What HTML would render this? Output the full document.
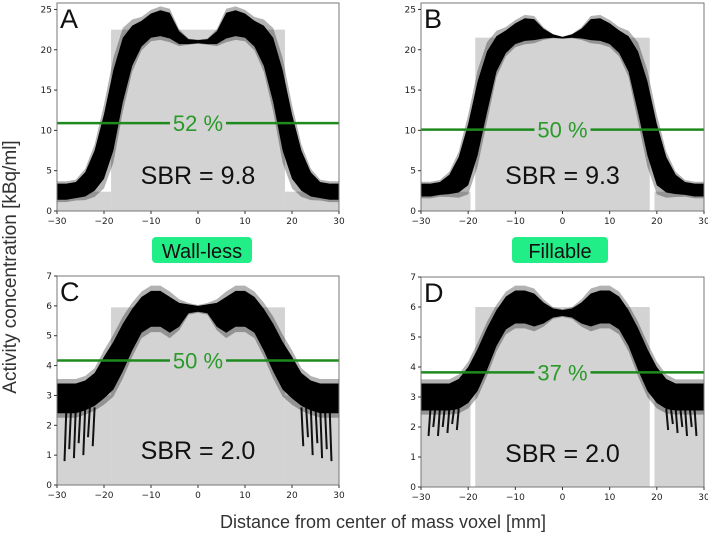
<!DOCTYPE html>
<html><head><meta charset="utf-8"><style>
html,body{margin:0;padding:0;background:#fff;}
svg{display:block;font-family:"DejaVu Sans","Liberation Sans",sans-serif;}
</style></head><body>
<svg id="fig" width="708" height="534" viewBox="0 0 708 534">
<text x="16" y="267" transform="rotate(-90 16 267)" text-anchor="middle" font-family="Liberation Sans, sans-serif" font-size="19" fill="#333">Activity concentration [kBq/ml]</text>
<text x="383" y="528" text-anchor="middle" font-family="Liberation Sans, sans-serif" font-size="18" fill="#333">Distance from center of mass voxel [mm]</text>
<rect x="152" y="237" width="100" height="26" rx="4" fill="#22ee88"/>
<text x="202" y="258" text-anchor="middle" font-family="Liberation Sans, sans-serif" font-size="20" fill="#111">Wall-less</text>
<rect x="512" y="237" width="96" height="26" rx="4" fill="#22ee88"/>
<text x="560" y="258" text-anchor="middle" font-family="Liberation Sans, sans-serif" font-size="20" fill="#111">Fillable</text>
</svg>
<script>
const xs=[-30,-28,-26,-24,-22,-20,-18,-16,-14,-12,-10,-8,-6,-4,-2,0,2,4,6,8,10,12,14,16,18,20,22,24,26,28,30];
const meanA=[2.4,2.4,2.6,3.3,5,8,12.5,17.5,20.5,22,23,23.3,23,21.5,21,21,21,21.5,23,23.3,23,22,20.5,17.5,12.5,8,5,3.3,2.6,2.4,2.4];
const spreadA=[1,1,1,1.5,2.5,4,5,4,2.5,1.6,1.5,1.6,1.6,0.8,0.3,0.2,0.3,0.8,1.6,1.6,1.5,1.6,2.5,4,5,4,2.5,1.5,1,1,1];
const meanB=[2.6,2.6,2.8,3.3,4.5,7,11.5,16,19.5,21,22,22.5,22.5,22,21.7,21.5,21.7,22,22.5,22.5,22,21,19.5,16,11.5,7,4.5,3.3,2.8,2.6,2.6];
const spreadB=[0.8,0.8,0.8,1.2,2.2,3.8,4.6,3.8,2.2,1.4,1.3,1.4,1.3,0.6,0.2,0.1,0.2,0.6,1.3,1.4,1.3,1.4,2.2,3.8,4.6,3.8,2.2,1.2,0.8,0.8,0.8];
const meanC=[2.9,2.9,2.9,3,3.2,3.6,4,4.6,5.2,5.7,5.9,5.9,5.7,5.7,5.9,5.9,5.9,5.7,5.7,5.9,5.9,5.7,5.2,4.6,4,3.6,3.2,3,2.9,2.9,2.9];
const spreadC=[0.5,0.5,0.5,0.5,0.55,0.7,0.8,0.8,0.7,0.6,0.6,0.6,0.6,0.4,0.15,0.1,0.15,0.4,0.6,0.6,0.6,0.6,0.7,0.8,0.8,0.7,0.55,0.5,0.5,0.5,0.5];
const meanD=[3,3,3,3,3.1,3.4,3.9,4.6,5.3,5.8,6,6,5.9,5.8,5.8,5.8,5.8,5.8,5.9,6,6,5.8,5.3,4.6,3.9,3.4,3.1,3,3,3,3];
const spreadD=[0.45,0.45,0.45,0.45,0.5,0.6,0.7,0.7,0.6,0.55,0.55,0.55,0.55,0.35,0.15,0.1,0.15,0.35,0.55,0.55,0.55,0.55,0.6,0.7,0.7,0.6,0.5,0.45,0.45,0.45,0.45];
const spikeXC=[-28,-27,-26,-25,-24,-23,-22,22,23,24,25,26,27,28];
const spikeBotC=[0.8,1.2,0.9,1.4,1.0,1.6,1.3,1.3,1.6,1.0,1.4,0.9,1.2,0.8];
const spikeXD=[-28,-27,-26,-25,-24,-23,-22,22,23,24,25,26,27,28];
const spikeBotD=[1.7,2.0,1.7,2.0,1.8,2.1,1.9,1.9,2.1,1.8,2.0,1.7,2.0,1.7];
const thrA=10.9, thrB=10.1, thrC=4.17, thrD=3.82;
const xTicks=[-30,-20,-10,0,10,20,30];
const yTicksTop=[0,5,10,15,20,25];
const yTicksBot=[0,1,2,3,4,5,6,7];

const svg=document.getElementById('fig');
const NS='http://www.w3.org/2000/svg';
function mk(tag,attrs,parent){const e=document.createElementNS(NS,tag);for(const k in attrs)e.setAttribute(k,attrs[k]);(parent||svg).appendChild(e);return e;}

const panels=[
 {id:'a',letter:'A',x0:57,x1:339,y0:211,yTop:3,ymax:25.8,yt:yTicksTop,mean:meanA,spread:spreadA,thr:thrA,pct:'52 %',sbr:'SBR = 9.8',sbrY:184,side:2.4,center:22.5,gap:false,spx:null},
 {id:'b',letter:'B',x0:421,x1:704,y0:211,yTop:3,ymax:25.8,yt:yTicksTop,mean:meanB,spread:spreadB,thr:thrB,pct:'50 %',sbr:'SBR = 9.3',sbrY:184,side:2.4,center:21.5,gap:true,spx:null},
 {id:'c',letter:'C',x0:57,x1:339,y0:485,yTop:276,ymax:7,yt:yTicksBot,mean:meanC,spread:spreadC,thr:thrC,pct:'50 %',sbr:'SBR = 2.0',sbrY:459,side:3.0,center:5.95,gap:false,spx:spikeXC,spb:spikeBotC},
 {id:'d',letter:'D',x0:421,x1:704,y0:487,yTop:277,ymax:7,yt:yTicksBot,mean:meanD,spread:spreadD,thr:thrD,pct:'37 %',sbr:'SBR = 2.0',sbrY:462,side:3.0,center:6.0,gap:true,spx:spikeXD,spb:spikeBotD}
];
panels.forEach(p=>{
 const g=mk('g',{});
 
 
 const X=v=>p.x0+(v+30)/60*(p.x1-p.x0);
 const Y=v=>p.y0-v/p.ymax*(p.y0-p.yTop);
 const cl=mk('rect',{x:X(-18.5),y:Y(p.center),width:X(18.5)-X(-18.5),height:p.y0-Y(p.center),fill:'#d3d3d3'},g);
 
 
 const e=p.gap?19.5:18.5;
 [[-30,-e],[e,30]].forEach(([a,b])=>{
  const r=mk('rect',{x:X(a),y:Y(p.side),width:X(b)-X(a),height:p.y0-Y(p.side),fill:'#d3d3d3'},g);
  
  
 });
 if(p.spx){p.spx.forEach((sx,i)=>{
  const l=mk('line',{x1:X(sx),x2:X(sx+(sx<0?-0.4:0.4)),y1:Y(2.6),y2:Y(p.spb[i]),stroke:'#111','stroke-width':2},g);
  
  
 });}
 [[1.3,'rgba(0,0,0,0.3)'],[1,'#000']].forEach(([f,col])=>{
  let d='';
  xs.forEach((x,i)=>{d+=(i?'L':'M')+X(x).toFixed(1)+','+Y(p.mean[i]+p.spread[i]*f).toFixed(1);});
  for(let i=xs.length-1;i>=0;i--){d+='L'+X(xs[i]).toFixed(1)+','+Y(Math.max(0,p.mean[i]-p.spread[i]*f)).toFixed(1);}
  const b=mk('path',{d:d+'Z',fill:col,'stroke-linejoin':'round'},g);
  
  
 });
 const tl=mk('line',{x1:p.x0,x2:p.x1,y1:Y(p.thr),y2:Y(p.thr),stroke:'#1e8a1e','stroke-width':2.5},g);
 
 
 const cx=X(0);
 mk('rect',{x:cx-28,y:Y(p.thr)-12,width:56,height:24,fill:'#d3d3d3'},g);
 const pt=mk('text',{x:cx,y:Y(p.thr)+8,'text-anchor':'middle','font-family':'Liberation Sans, sans-serif','font-size':22,fill:'#2a9a2a'},g);
 pt.textContent=p.pct;
 
 
 const st=mk('text',{x:cx,y:p.sbrY,'text-anchor':'middle','font-family':'Liberation Sans, sans-serif','font-size':25,fill:'#111'},g);
 st.textContent=p.sbr;
 
 
 const lt=mk('text',{x:p.x0+3,y:p.yTop+25,'font-family':'Liberation Sans, sans-serif','font-size':27,fill:'#111'},g);
 lt.textContent=p.letter;
 
 
 const fr=mk('rect',{x:p.x0,y:p.yTop,width:p.x1-p.x0,height:p.y0-p.yTop,fill:'none',stroke:'#777','stroke-width':1},g);
 
 
 xTicks.forEach(t=>{
  mk('line',{x1:X(t),x2:X(t),y1:p.y0,y2:p.y0+3,stroke:'#333'},g);
  const tx=mk('text',{x:X(t),y:p.y0+13,'text-anchor':'middle','font-size':9,fill:'#222'},g);
  tx.textContent=t<0?'\u2212'+(-t):String(t);
  
  
 });
 p.yt.forEach(t=>{
  mk('line',{x1:p.x0-3,x2:p.x0,y1:Y(t),y2:Y(t),stroke:'#333'},g);
  const ty=mk('text',{x:p.x0-5,y:Y(t)+3,'text-anchor':'end','font-size':9,fill:'#222'},g);
  ty.textContent=String(t);
  
  
 });
});
</script>
</body></html>
